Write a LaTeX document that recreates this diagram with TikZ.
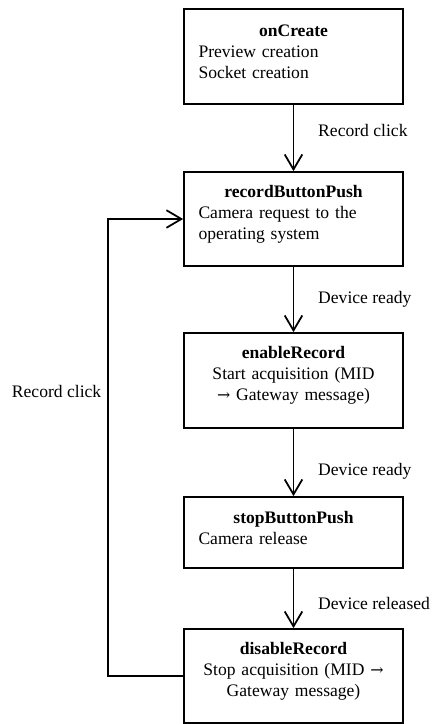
\documentclass[tikz,border=0pt]{standalone}
\usepackage{fontspec}
\setmainfont{Liberation Serif}
\newfontfamily\freccefont{DejaVu Serif}
\usetikzlibrary{arrows.meta}
\newcommand{\va}{{\freccefont\small →}}

\begin{document}
\begin{tikzpicture}
\tikzstyle{stato} = [draw, line width=1pt, minimum width=4.38cm, text width=3.8cm, align=left, execute at end node={\endgraf\kern5.5pt}]
\tikzstyle{transizione} = [line width=1pt, -{Straight Barb[length=8.5pt,width=10pt]}]
\useasboundingbox (0,0) rectangle (8.72,-14.48);
\node[stato, minimum height=1.9cm] (oncreate) at (5.87,-1.13) {\makebox[\linewidth]{\textbf{onCreate}}\\Preview creation\\Socket creation};
\node[stato, minimum height=1.88cm] (recordpush) at (5.87,-4.38) {\makebox[\linewidth]{\textbf{recordButtonPush}}\\Camera request to the\\operating system};
\node[stato, minimum height=1.9cm, align=center] (enable) at (5.87,-7.61) {\textbf{enableRecord}\\Start acquisition (MID\\\va{} Gateway message)};
\node[stato, minimum height=1.42cm] (stoppush) at (5.87,-10.65) {\makebox[\linewidth]{\textbf{stopButtonPush}}\\Camera release};
\node[stato, minimum height=1.88cm, align=center] (disable) at (5.87,-13.52) {\textbf{disableRecord}\\Stop acquisition (MID \va\\Gateway message)};
\coordinate (ritorno) at (2.16,-7.82);
\draw[transizione] (oncreate) -- node[right=0.36cm, yshift=4pt] {Record click} (recordpush);
\draw[transizione] (recordpush) -- node[right=0.36cm] {Device ready} (enable);
\draw[transizione] (enable) -- node[right=0.36cm, yshift=-5pt] {Device ready} (stoppush);
\draw[transizione] (stoppush) -- node[right=0.36cm, yshift=-3pt] {Device released} (disable);
\draw[transizione] (disable.west) -| (ritorno) node[left] {Record click} |- (recordpush.west);
\end{tikzpicture}
\end{document}
